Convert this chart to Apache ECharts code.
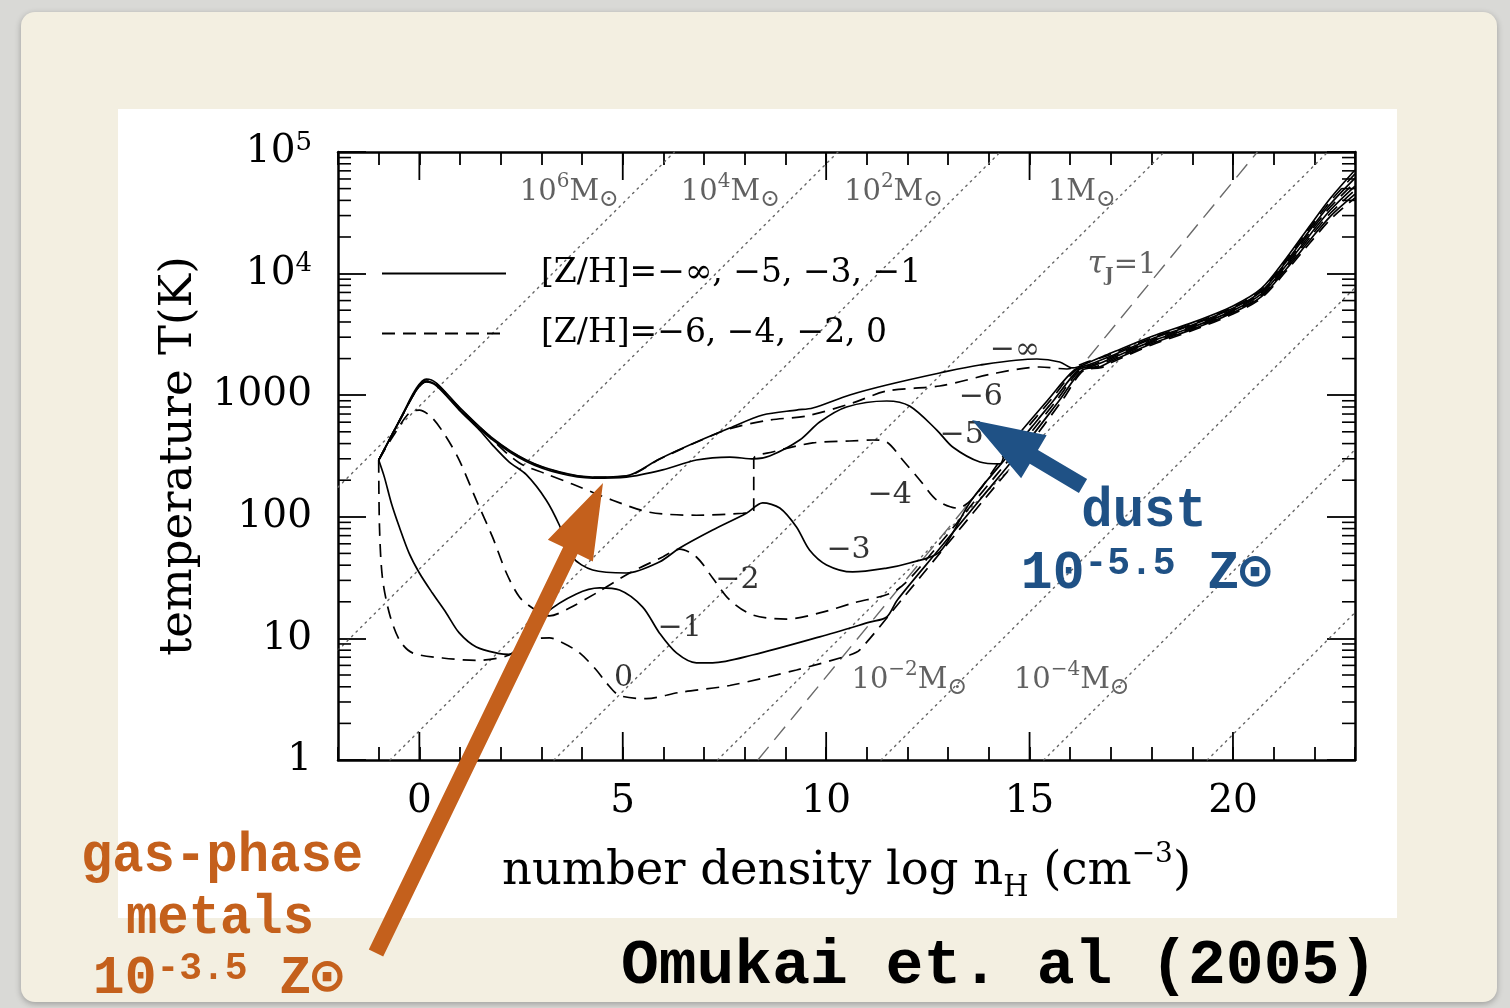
<!DOCTYPE html>
<html><head><meta charset="utf-8">
<script src="https://cdn.jsdelivr.net/npm/echarts@6/dist/echarts.min.js"></script>
<style>
html,body{margin:0;padding:0;width:1510px;height:1008px;overflow:hidden;background:#d9d9d6;}
#card{position:absolute;left:21px;top:12px;width:1476px;height:990px;background:#f3efe1;border-radius:14px;box-shadow:0 2px 6px rgba(0,0,0,0.28);}
#panel{position:absolute;left:118px;top:109px;width:1279px;height:809px;background:#ffffff;}
#chart{position:absolute;left:0;top:0;width:1510px;height:1008px;}
</style></head><body>
<div id="card"></div><div id="panel"></div><div id="chart"></div>
<script>
// ---- axis ranges and ticks ----
const X_MIN = -2, X_MAX = 23, Y_MIN = 1, Y_MAX = 100000;
const xMajorTicks = [0, 5, 10, 15, 20];
const yMinorTicks = [2,3,4,5,6,7,8,9,20,30,40,50,60,70,80,90,200,300,400,500,600,700,800,900,
  2000,3000,4000,5000,6000,7000,8000,9000,20000,30000,40000,50000,60000,70000,80000,90000];
const yTickLabels = {1:'1', 10:'10', 100:'100', 1000:'1000', 10000:'{b|10}{s|4}', 100000:'{b|10}{s|5}'};

// ---- temperature tracks [log nH, T] ----
const zInf = [[-1.0,293],[-0.42,690],[-0.07,1146],[0.17,1359],[0.42,1259],[0.98,800],[1.8,444],[2.63,293],[3.44,234],[4.26,212],[5.09,217],[5.9,299],[6.81,412],[7.63,537],[8.44,687],[9.27,755],[9.67,785],[10.58,1004],[11.49,1213],[12.79,1523],[13.78,1772],[15.18,1985],[15.74,1876],[16.06,1675],[16.48,1876],[17.0,2220],[18.0,3040],[19.0,3955],[20.0,5420],[20.7,7550],[21.3,13240],[21.9,25000],[22.4,41800],[23.0,71100]];
const zM6 = [[-1.0,293],[-0.42,680],[-0.07,1130],[0.17,1340],[0.42,1245],[0.98,790],[1.8,440],[2.63,290],[3.44,232],[4.26,211],[5.09,216],[5.9,297],[6.81,410],[7.63,530],[8.61,625],[9.52,675],[10.65,863],[11.49,1083],[12.79,1191],[14.19,1523],[15.25,1706],[15.92,1642],[16.36,1850],[17.0,2160],[18.0,2960],[19.0,3850],[20.0,5280],[20.7,7330],[21.3,12800],[21.9,24000],[22.4,39600],[23.0,66000]];
const zM5 = [[-1.0,293],[-0.42,680],[-0.07,1110],[0.17,1300],[0.42,1210],[0.98,770],[1.8,430],[2.63,285],[3.44,228],[4.26,208],[5.09,212],[5.98,243],[6.81,293],[7.63,310],[8.22,299],[8.61,316],[9.35,428],[9.84,602],[10.5,800],[11.49,896],[12.05,815],[12.72,517],[13.11,375],[13.78,282],[14.27,272],[14.42,354],[15.45,913],[16.1,1611],[16.5,1800],[17.0,2100],[18.0,2900],[19.0,3780],[20.0,5180],[20.7,7150],[21.3,12400],[21.9,23000],[22.4,37500],[23.0,61000]];
const zM4 = [[-1.0,293],[-0.42,680],[-0.07,1100],[0.17,1300],[0.42,1213],[0.98,785],[1.8,428],[2.46,277],[3.12,225],[3.76,186],[4.75,137],[5.66,109],[6.81,103],[7.95,107],[8.22,112],[8.22,299],[8.68,341],[9.67,405],[10.58,420],[11.14,428],[11.49,412],[11.88,293],[12.3,201],[12.72,137],[13.21,118],[14.47,354],[15.52,913],[16.14,1611],[16.55,1780],[17.0,2050],[18.0,2830],[19.0,3700],[20.0,5070],[20.7,6980],[21.3,12000],[21.9,22000],[22.4,35500],[23.0,56500]];
const zM3 = [[-1.0,293],[-0.42,680],[-0.07,1104],[0.17,1284],[0.42,1191],[0.98,755],[1.48,517],[1.8,389],[2.21,282],[2.63,222],[3.12,137],[3.44,85.6],[3.76,46.7],[4.26,36.5],[5.09,34.5],[5.9,42.5],[6.4,55.4],[7.21,77.9],[8.04,107],[8.44,130],[8.86,118],[9.27,82.4],[9.59,53.3],[10.01,40.2],[10.65,35.2],[11.49,37.9],[12.05,41.7],[12.79,51.4],[13.57,137],[14.59,354],[15.6,913],[16.2,1611],[16.6,1760],[17.0,2000],[18.0,2770],[19.0,3620],[20.0,4960],[20.7,6800],[21.3,11600],[21.9,21000],[22.4,33500],[23.0,52500]];
const zM2 = [[-1.0,293],[-0.66,453],[-0.25,714],[0.0,755],[0.32,649],[0.66,453],[0.98,293],[1.4,137],[1.8,68],[2.14,34.5],[2.46,21.9],[2.78,17.8],[3.2,15.3],[3.69,17.8],[4.35,23.6],[5.17,34.5],[5.98,46.7],[6.4,54.3],[6.81,46.7],[7.21,31.4],[7.63,20.7],[8.19,15.6],[9.03,14.4],[9.84,16.2],[10.65,19.5],[11.73,25],[12.66,53.3],[13.67,137],[14.69,354],[15.67,913],[16.25,1611],[16.65,1720],[17.0,1950],[18.0,2710],[19.0,3550],[20.0,4860],[20.7,6630],[21.3,11200],[21.9,20000],[22.4,31500],[23.0,48500]];
const zM1 = [[-1.0,293],[-0.86,212],[-0.69,130],[-0.49,82],[-0.25,50],[0.0,34.5],[0.32,23.6],[0.66,16.2],[0.98,11.1],[1.4,8.5],[1.97,7.5],[2.2,7.4],[2.58,9.7],[3.12,16.2],[3.86,23.2],[4.43,26],[4.92,25],[5.49,18.1],[5.9,11.1],[6.32,7.6],[6.81,6.3],[7.21,6.3],[8.19,7.3],[9.84,10.3],[11.07,13.6],[11.49,15],[11.75,20.7],[12.76,53.3],[13.77,137],[14.79,354],[15.74,913],[16.3,1611],[16.7,1700],[17.0,1900],[18.0,2650],[19.0,3480],[20.0,4760],[20.7,6460],[21.3,10800],[21.9,19000],[22.4,29700],[23.0,45000]];
const z0 = [[-1.0,293],[-0.98,82.4],[-0.91,32],[-0.74,16.2],[-0.49,9.7],[-0.17,7.6],[0.57,6.9],[1.4,6.6],[2.21,7.3],[2.71,9.7],[3.2,10.1],[3.52,9.2],[3.94,7.6],[4.35,5.5],[4.6,4.3],[4.92,3.4],[5.58,3.2],[6.4,3.6],[7.63,4.1],[9.27,5.5],[10.58,7.3],[10.82,8.0],[11.85,20.7],[12.86,53.3],[13.87,137],[14.89,354],[15.81,913],[16.35,1611],[16.75,1680],[17.0,1850],[18.0,2590],[19.0,3400],[20.0,4660],[20.7,6300],[21.3,10400],[21.9,18000],[22.4,28000],[23.0,42000]];

// ---- reference lines (constant Jeans mass, tau_J = 1) ----
const jeansLines = [
  [[-2, 175], [6.27, 100000]],
  [[-2, 8.0], [10.29, 100000]],
  [[-0.72, 1], [14.28, 100000]],
  [[3.31, 1], [18.31, 100000]],
  [[7.33, 1], [22.33, 100000]],
  [[11.35, 1], [23, 7650]],
  [[15.35, 1], [23, 356]],
  [[19.37, 1], [23, 16.3]]
];
const tauLine = [[8.32, 1], [20.6, 100000]];

// ---- labels inside the plot [x, T, text] ----
const curveLabels = [[14.64,2354,'−∞'],[13.80,967,'−6'],[13.33,471,'−5'],[11.56,151,'−4'],[10.55,53.3,'−3'],[7.82,30.2,'−2'],[6.40,12.2,'−1'],[5.02,4.72,'0']];
const massLabels = [
  [3.69, 46900, '{n|10}{p|6}{n|M}{o|⊙}'],
  [7.65, 46900, '{n|10}{p|4}{n|M}{o|⊙}'],
  [11.66, 46900, '{n|10}{p|2}{n|M}{o|⊙}'],
  [16.29, 46900, '{n|1M}{o|⊙}'],
  [12.05, 4.55, '{n|10}{p|−2}{n|M}{o|⊙}'],
  [16.04, 4.55, '{n|10}{p|−4}{n|M}{o|⊙}'],
  [17.27, 11770, '{t|τ}{j|J}{n|=1}']
];
const legendNames = ['[Z/H]=−∞, −5, −3, −1', '[Z/H]=−6, −4, −2, 0'];

const SERIF = "'DejaVu Serif','DejaVu Sans',serif";
const MONO = "'Liberation Mono','DejaVu Sans Mono',monospace";
const ORANGE = '#c4601c', BLUE = '#1f5185';

function arrowPoints(tail, tip, shaftW, headW, headL) {
  const dx = tip[0]-tail[0], dy = tip[1]-tail[1];
  const len = Math.hypot(dx, dy);
  const ux = dx/len, uy = dy/len, nx = -uy, ny = ux;
  const bx = tip[0]-ux*headL, by = tip[1]-uy*headL;
  const s = shaftW/2, h = headW/2;
  return [[tail[0]+nx*s, tail[1]+ny*s],[bx+nx*s, by+ny*s],[bx+nx*h, by+ny*h],[tip[0],tip[1]],
          [bx-nx*h, by-ny*h],[bx-nx*s, by-ny*s],[tail[0]-nx*s, tail[1]-ny*s]];
}

const solidStyle = {color:'#000', width:1.7, type:'solid'};
const dashStyle = {color:'#000', width:1.7, type:[13,8]};
const curveDefs = [
  {name: legendNames[0], data: zInf, dashed:false},
  {name: legendNames[1], data: zM6, dashed:true},
  {name: 'Z−5', data: zM5, dashed:false},
  {name: 'Z−4', data: zM4, dashed:true},
  {name: 'Z−3', data: zM3, dashed:false},
  {name: 'Z−2', data: zM2, dashed:true},
  {name: 'Z−1', data: zM1, dashed:false},
  {name: 'Z0', data: z0, dashed:true}
];

const series = [];
jeansLines.forEach((ln, i) => series.push({
  type:'line', name:'MJ'+i, data: ln, symbol:'none', silent:true, z:1,
  lineStyle:{color:'#666', width:1.4, type:[1.6,4.8], cap:'round'}
}));
series.push({type:'line', name:'tauJ', data: tauLine, symbol:'none', silent:true, z:1,
  lineStyle:{color:'#6a6a6a', width:1.4, type:[17,9]}});
curveDefs.forEach(c => series.push({
  type:'line', name:c.name, data:c.data, symbol:'none', smooth:0.3, silent:true, z:5,
  itemStyle:{color:'#000'},
  lineStyle: c.dashed ? dashStyle : solidStyle
}));
series.push({
  type:'scatter', name:'curveLabels', silent:true, z:6, symbolSize:2, itemStyle:{color:'rgba(0,0,0,0)'},
  data: curveLabels.map(d => ({value:[d[0], d[1]], label:{formatter:d[2]}})),
  label:{show:true, position:'inside', color:'#000', fontFamily:SERIF, fontSize:30}
});
const massRich = {
  n:{fontFamily:SERIF, fontSize:29, color:'#3a3a3a', lineHeight:40},
  t:{fontFamily:SERIF, fontSize:32, fontStyle:'italic', color:'#3a3a3a', lineHeight:40},
  p:{fontFamily:SERIF, fontSize:20, color:'#3a3a3a', lineHeight:22, verticalAlign:'top'},
  j:{fontFamily:SERIF, fontSize:18, fontWeight:'bold', color:'#3a3a3a', lineHeight:20, verticalAlign:'bottom'},
  o:{fontFamily:SERIF, fontSize:24, color:'#3a3a3a', lineHeight:24, verticalAlign:'bottom'}
};
series.push({
  type:'scatter', name:'massLabels', silent:true, z:6, symbolSize:2, itemStyle:{color:'rgba(0,0,0,0)'},
  data: massLabels.map(d => ({value:[d[0], d[1]], label:{formatter:d[2]}})),
  label:{show:true, position:'inside', color:'#3a3a3a', rich:massRich}
});
series.push({
  type:'custom', name:'yMinorTicks', silent:true, z:4,
  data: yMinorTicks.map(v => [X_MIN, v]), encode:{x:0, y:1},
  renderItem(params, api) {
    const v = api.value(1);
    const L = api.coord([X_MIN, v]), R = api.coord([X_MAX, v]);
    const st = {stroke:'#000', lineWidth:1.6};
    return {type:'group', children:[
      {type:'line', shape:{x1:L[0], y1:L[1], x2:L[0]+13, y2:L[1]}, style:st},
      {type:'line', shape:{x1:R[0]-13, y1:R[1], x2:R[0], y2:R[1]}, style:st}]};
  }
});
series.push({
  type:'custom', name:'xMajorTicks', silent:true, z:4,
  data: xMajorTicks.map(v => [v, Y_MIN]), encode:{x:0, y:1},
  renderItem(params, api) {
    const v = api.value(0);
    const B = api.coord([v, Y_MIN]), T = api.coord([v, Y_MAX]);
    const st = {stroke:'#000', lineWidth:1.8};
    return {type:'group', children:[
      {type:'line', shape:{x1:B[0], y1:B[1], x2:B[0], y2:B[1]-28}, style:st},
      {type:'line', shape:{x1:T[0], y1:T[1], x2:T[0], y2:T[1]+28}, style:st}]};
  }
});

const axisLine = {show:true, onZero:false, lineStyle:{color:'#000', width:2.5}};
const option = {
  animation:false,
  backgroundColor:'transparent',
  grid:{left:338, right:155, top:152, bottom:248, containLabel:false, outerBoundsMode:'none'},
  legend:{
    left:376, top:252, orient:'vertical', itemWidth:124, itemHeight:14, itemGap:27,
    selectedMode:false, data:legendNames,
    itemStyle:{opacity:0},
    textStyle:{fontFamily:SERIF, fontSize:33, color:'#000', padding:[0,0,0,30]}
  },
  xAxis:[
    {type:'value', min:X_MIN, max:X_MAX, interval:1, position:'bottom', axisLine,
     axisTick:{show:true, inside:true, length:13, lineStyle:{color:'#000', width:1.8}},
     axisLabel:{formatter:v => (v % 5 === 0 ? String(v) : ''), margin:22, fontFamily:SERIF, fontSize:39, color:'#000'},
     splitLine:{show:false},
     name:'{n|number density log n}{sub|H}{n| (cm}{sup|−3}{n|)}', nameLocation:'middle', nameGap:81,
     nameTextStyle:{fontFamily:SERIF, fontSize:46.5, color:'#000', rich:{
       n:{fontFamily:SERIF, fontSize:46.5, lineHeight:62, color:'#000'},
       sub:{fontFamily:SERIF, fontSize:29, lineHeight:28, verticalAlign:'bottom', color:'#000'},
       sup:{fontFamily:SERIF, fontSize:28, lineHeight:28, verticalAlign:'top', color:'#000'}}}},
    {type:'value', min:X_MIN, max:X_MAX, interval:1, position:'top', axisLine,
     axisTick:{show:true, inside:true, length:13, lineStyle:{color:'#000', width:1.8}},
     axisLabel:{show:false}, splitLine:{show:false}}
  ],
  yAxis:[
    {type:'log', logBase:10, min:Y_MIN, max:Y_MAX, position:'left', axisLine,
     axisTick:{show:true, inside:true, length:28, lineStyle:{color:'#000', width:1.8}},
     minorTick:{show:false}, splitLine:{show:false},
     axisLabel:{formatter:v => yTickLabels[Math.round(v)] || '', margin:26, fontFamily:SERIF, fontSize:39, color:'#000',
       rich:{b:{fontFamily:SERIF, fontSize:39, lineHeight:44, color:'#000'},
             s:{fontFamily:SERIF, fontSize:26, lineHeight:26, verticalAlign:'top', color:'#000'}}},
     name:'temperature T(K)', nameLocation:'middle', nameGap:135, nameRotate:90,
     nameTextStyle:{fontFamily:SERIF, fontSize:45, color:'#000'}},
    {type:'log', logBase:10, min:Y_MIN, max:Y_MAX, position:'right', axisLine,
     axisTick:{show:true, inside:true, length:28, lineStyle:{color:'#000', width:1.8}},
     minorTick:{show:false}, splitLine:{show:false}, axisLabel:{show:false}}
  ],
  series,
  graphic:[
    {type:'polygon', z:100, silent:true, shape:{points:arrowPoints([376,953],[603,483],16,50,75)}, style:{fill:ORANGE}},
    {type:'polygon', z:100, silent:true, shape:{points:arrowPoints([1083,486],[972,420],16,50,72)}, style:{fill:BLUE}},
    {type:'text', z:101, x:222, y:857, scaleX:0.95, style:{text:'gas-phase', fontFamily:MONO, fontWeight:'bold', fontSize:55, fill:ORANGE, align:'center', verticalAlign:'middle'}},
    {type:'text', z:101, x:220, y:919, scaleX:0.95, style:{text:'metals', fontFamily:MONO, fontWeight:'bold', fontSize:55, fill:ORANGE, align:'center', verticalAlign:'middle'}},
    {type:'text', z:101, x:218, y:980, style:{text:'{n|10}{s|-3.5}{n| Z⊙}', align:'center', verticalAlign:'middle',
      rich:{n:{fontFamily:MONO, fontWeight:'bold', fontSize:53, fill:ORANGE, lineHeight:60},
            s:{fontFamily:MONO, fontWeight:'bold', fontSize:38, fill:ORANGE, lineHeight:40, verticalAlign:'top'}}}},
    {type:'text', z:101, x:1144, y:512, scaleX:0.95, style:{text:'dust', fontFamily:MONO, fontWeight:'bold', fontSize:55, fill:BLUE, align:'center', verticalAlign:'middle'}},
    {type:'text', z:101, x:1146, y:575, style:{text:'{n|10}{s|-5.5}{n| Z⊙}', align:'center', verticalAlign:'middle',
      rich:{n:{fontFamily:MONO, fontWeight:'bold', fontSize:53, fill:BLUE, lineHeight:60},
            s:{fontFamily:MONO, fontWeight:'bold', fontSize:38, fill:BLUE, lineHeight:40, verticalAlign:'top'}}}},
    {type:'text', z:101, x:999, y:967, style:{text:'Omukai et. al (2005)', fontFamily:MONO, fontWeight:'bold', fontSize:63, fill:'#000', align:'center', verticalAlign:'middle'}}
  ]
};
const chart = echarts.init(document.getElementById('chart'), null, {renderer:'canvas'});
chart.setOption(option);
</script></body></html>
